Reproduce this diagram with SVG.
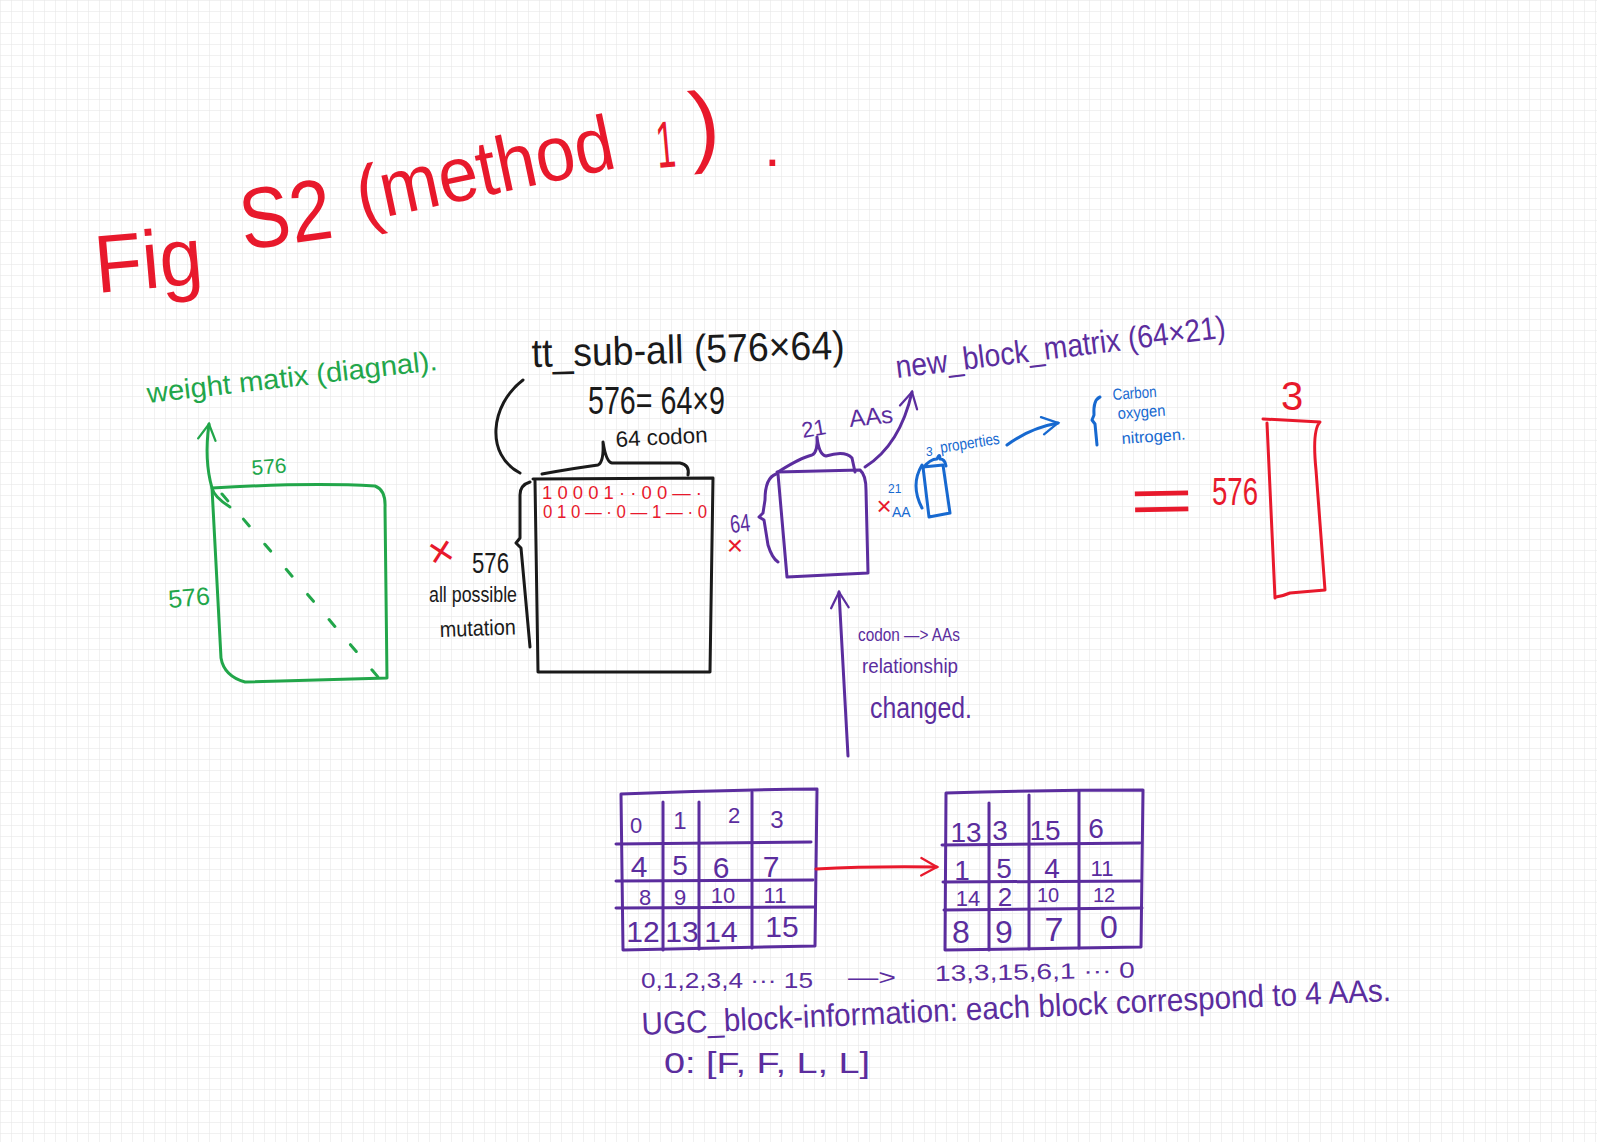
<svg xmlns="http://www.w3.org/2000/svg" width="1597" height="1142" viewBox="0 0 1597 1142">
<defs>
<pattern id="grid" width="11" height="11" patternUnits="userSpaceOnUse">
<path d="M11,0 L0,0 L0,11" fill="none" stroke="#e3e3e3" stroke-width="1"/>
</pattern>
<marker id="ahP" viewBox="0 0 12 12" refX="10" refY="6" markerWidth="7" markerHeight="7" orient="auto" markerUnits="strokeWidth"><path d="M1,1 L10,6 L1,11" fill="none" stroke="#5b2d9e" stroke-width="1.3" stroke-linecap="round"/></marker>
<marker id="ahR" viewBox="0 0 12 12" refX="10" refY="6" markerWidth="7" markerHeight="7" orient="auto" markerUnits="strokeWidth"><path d="M1,1 L10,6 L1,11" fill="none" stroke="#e8192c" stroke-width="1.3" stroke-linecap="round"/></marker>
<marker id="ahB" viewBox="0 0 12 12" refX="10" refY="6" markerWidth="7" markerHeight="7" orient="auto" markerUnits="strokeWidth"><path d="M1,1 L10,6 L1,11" fill="none" stroke="#1769d0" stroke-width="1.3" stroke-linecap="round"/></marker>
<marker id="ahG" viewBox="0 0 12 12" refX="10" refY="6" markerWidth="7" markerHeight="7" orient="auto" markerUnits="strokeWidth"><path d="M1,1 L10,6 L1,11" fill="none" stroke="#22a64a" stroke-width="1.3" stroke-linecap="round"/></marker>
</defs>
<style>
text { font-family: "Liberation Sans", Arial, sans-serif; }
.r { fill:#e8192c; } .g { fill:#22a64a; } .p { fill:#5b2d9e; } .b { fill:#1769d0; } .k { fill:#1a1a1a; }
.ln { fill:none; stroke-linecap:round; stroke-linejoin:round; stroke-width:3; }
.sr { stroke:#e8192c; } .sg { stroke:#22a64a; } .sp { stroke:#5b2d9e; } .sb { stroke:#1769d0; } .sk { stroke:#1a1a1a; }
.num { text-anchor:middle; }
</style>
<rect width="1597" height="1142" fill="#ffffff"/>
<rect width="1597" height="1142" fill="url(#grid)"/>

<g id="title">
<text class="r" x="97" y="293" font-size="82" textLength="108" lengthAdjust="spacingAndGlyphs" transform="rotate(-5 97 293)">Fig</text>
<text class="r" x="244" y="250" font-size="86" textLength="92" lengthAdjust="spacingAndGlyphs" transform="rotate(-8 244 250)">S2</text>
<text class="r" x="362" y="222" font-size="78" textLength="262" lengthAdjust="spacingAndGlyphs" transform="rotate(-12 362 222)">(method</text>
<text class="r" x="658" y="168" font-size="66" textLength="19" lengthAdjust="spacingAndGlyphs" transform="rotate(-5 658 168)">1</text>
<text class="r" x="692" y="156" font-size="90" transform="rotate(-5 692 156)">)</text>
<text class="r" x="764" y="166" font-size="60">.</text>
</g>

<g id="weight-matrix">
<text class="g" x="148" y="403" font-size="28" textLength="292" lengthAdjust="spacingAndGlyphs" transform="rotate(-6.5 148 403)">weight matix (diagnal).</text>
<text class="g" x="252" y="475" font-size="21" transform="rotate(-4 252 475)">576</text>
<text class="g" x="169" y="608" font-size="25" transform="rotate(-5 169 608)">576</text>
<path class="ln sg" d="M212,488 C280,484 340,484 375,486 Q386,490 385,508 L387,678 L245,682 Q224,676 221,658 L212,488"/>
<path class="ln sg" stroke-width="1.6" stroke-dasharray="9 24" d="M222,494 L378,677"/>
</g>

<g id="tt-sub-all">
<text class="k" x="532" y="367" font-size="40" textLength="313" lengthAdjust="spacingAndGlyphs" transform="rotate(-1.5 532 367)">tt_sub-all (576×64)</text>
<text class="k" x="588" y="414" font-size="38" textLength="137" lengthAdjust="spacingAndGlyphs">576= 64×9</text>
<text class="k" x="616" y="447" font-size="22" textLength="92" lengthAdjust="spacingAndGlyphs" transform="rotate(-3 616 447)">64 codon</text>
<path class="ln sk" d="M523,380 C490,405 485,455 520,473"/>
<path class="ln sk" d="M542,474 Q575,468 598,465 Q604,462 603,442 Q606,462 612,463 L680,463 Q690,465 688,475"/>
<path class="ln sk" d="M530,482 Q520,485 520,495 L520,538 L516,543 L521,548 L530,647"/>
<path class="ln sk" d="M533,479 L713,478 L710,672 L538,672 L535,481"/>
<text class="r" x="542" y="499" font-size="19" textLength="160" lengthAdjust="spacingAndGlyphs">1 0 0 0 1 · · 0 0 — ·</text>
<text class="r" x="543" y="518" font-size="19" textLength="164" lengthAdjust="spacingAndGlyphs">0 1 0 — · 0 — 1 — · 0</text>
<text class="r" x="444" y="566" font-size="44" text-anchor="middle" transform="rotate(-12 444 566)">×</text>
<text class="k" x="472" y="573" font-size="30" textLength="37" lengthAdjust="spacingAndGlyphs">576</text>
<text class="k" x="429" y="602" font-size="22" textLength="88" lengthAdjust="spacingAndGlyphs">all possible</text>
<text class="k" x="440" y="637" font-size="22" textLength="76" lengthAdjust="spacingAndGlyphs" transform="rotate(-2 440 637)">mutation</text>
</g>

<g id="new-block-matrix">
<text class="p" x="897" y="378" font-size="32" textLength="332" lengthAdjust="spacingAndGlyphs" transform="rotate(-7 897 378)">new_block_matrix (64×21)</text>
<path class="ln sp" d="M777,472 L860,470 Q866,475 866,490 L868,573 L787,577 L778,474"/>
<path class="ln sp" d="M778,472 Q800,458 812,455 Q818,452 817,437 Q819,455 826,456 Q845,450 852,458 L855,472"/>
<text class="p" x="803" y="438" font-size="22" transform="rotate(-10 803 438)">21</text>
<text class="p" x="850" y="427" font-size="24" transform="rotate(-6 850 427)">AAs</text>
<path class="ln sp" d="M776,474 Q765,478 765,500 L763,513 L759,517 L764,520 L768,545 Q772,558 778,562"/>
<text class="p" x="731" y="533" font-size="25" textLength="20" lengthAdjust="spacingAndGlyphs" transform="rotate(-6 731 533)">64</text>
<text class="r" x="735" y="555" font-size="28" text-anchor="middle">×</text>
</g>

<g id="properties">
<text class="r" x="884" y="515" font-size="26" text-anchor="middle">×</text>
<text class="b" x="888" y="493" font-size="12">21</text>
<text class="b" x="892" y="517" font-size="14">AA</text>
<path class="ln sb" stroke-width="2" d="M922,465 Q910,485 922,508"/>
<path class="ln sb" stroke-width="2" d="M923,467 L943,465 L950,513 L929,517 Z"/>
<path class="ln sb" stroke-width="2" d="M923,468 Q930,459 937,459 Q940,452 940,459 Q945,459 946,466"/>
<text class="b" x="926" y="456" font-size="12">3</text>
<text class="b" x="941" y="453" font-size="16" textLength="60" lengthAdjust="spacingAndGlyphs" transform="rotate(-9 941 453)">properties</text>
<path class="ln sb" stroke-width="2" d="M1100,397 Q1093,400 1094,415 L1092,420 L1095,424 L1097,445"/>
<text class="b" x="1113" y="400" font-size="16" textLength="44" lengthAdjust="spacingAndGlyphs" transform="rotate(-4 1113 400)">Carbon</text>
<text class="b" x="1118" y="419" font-size="16" textLength="48" lengthAdjust="spacingAndGlyphs" transform="rotate(-4 1118 419)">oxygen</text>
<text class="b" x="1122" y="444" font-size="16" textLength="64" lengthAdjust="spacingAndGlyphs" transform="rotate(-4 1122 444)">nitrogen.</text>
</g>

<g id="result-matrix">
<text class="r" x="1130" y="523" font-size="64" textLength="64" lengthAdjust="spacingAndGlyphs" transform="rotate(-1 1130 523)">=</text>
<text class="r" x="1212" y="505" font-size="38" textLength="46" lengthAdjust="spacingAndGlyphs">576</text>
<text class="r" x="1281" y="410" font-size="40">3</text>
<path class="ln sr" d="M1263,419 L1320,422 Q1312,430 1316,470 L1325,590 L1290,593 Q1283,596 1276,597 L1275,598 L1267,423"/>
</g>

<g id="relationship-note">
<text class="p" x="858" y="641" font-size="18" textLength="102" lengthAdjust="spacingAndGlyphs">codon —&gt; AAs</text>
<text class="p" x="862" y="673" font-size="20" textLength="96" lengthAdjust="spacingAndGlyphs">relationship</text>
<text class="p" x="870" y="718" font-size="30" textLength="102" lengthAdjust="spacingAndGlyphs">changed.</text>
</g>

<g id="grid-before">
<path class="ln sp" d="M621,794 Q720,790 817,789 L815,946 L623,950 Z"/>
<path class="ln sp" d="M616,844 L811,842 M616,881 L813,880 M616,908 L815,907"/>
<path class="ln sp" d="M663,802 L663,950 M699,802 L699,949 M752,792 L752,948"/>
<text class="p num" x="636" y="833" font-size="22">0</text>
<text class="p num" x="680" y="829" font-size="24">1</text>
<text class="p num" x="734" y="823" font-size="22">2</text>
<text class="p num" x="777" y="828" font-size="24">3</text>
<text class="p num" x="639" y="877" font-size="30">4</text>
<text class="p num" x="680" y="875" font-size="28">5</text>
<text class="p num" x="721" y="878" font-size="30">6</text>
<text class="p num" x="771" y="877" font-size="30">7</text>
<text class="p num" x="645" y="905" font-size="22">8</text>
<text class="p num" x="680" y="905" font-size="22">9</text>
<text class="p num" x="723" y="903" font-size="22">10</text>
<text class="p num" x="775" y="903" font-size="22">11</text>
<text class="p num" x="643" y="942" font-size="30">12</text>
<text class="p num" x="682" y="942" font-size="30">13</text>
<text class="p num" x="721" y="942" font-size="30">14</text>
<text class="p num" x="782" y="937" font-size="30">15</text>
</g>

<g id="grid-after">
<path class="ln sp" d="M946,793 Q1045,790 1143,790 L1141,947 L945,950 Z"/>
<path class="ln sp" d="M942,845 L1140,843 M943,882 L1141,881 M944,910 L1142,908"/>
<path class="ln sp" d="M989,803 L989,950 M1029,795 L1029,949 M1079,791 L1079,948"/>
<text class="p num" x="966" y="842" font-size="28">13</text>
<text class="p num" x="1000" y="840" font-size="28">3</text>
<text class="p num" x="1045" y="840" font-size="28">15</text>
<text class="p num" x="1096" y="838" font-size="28">6</text>
<text class="p num" x="962" y="880" font-size="28">1</text>
<text class="p num" x="1004" y="878" font-size="28">5</text>
<text class="p num" x="1052" y="878" font-size="28">4</text>
<text class="p num" x="1102" y="876" font-size="22">11</text>
<text class="p num" x="968" y="906" font-size="22">14</text>
<text class="p num" x="1005" y="906" font-size="26">2</text>
<text class="p num" x="1048" y="902" font-size="20">10</text>
<text class="p num" x="1104" y="902" font-size="20">12</text>
<text class="p num" x="961" y="943" font-size="32">8</text>
<text class="p num" x="1004" y="943" font-size="32">9</text>
<text class="p num" x="1054" y="941" font-size="34">7</text>
<text class="p num" x="1109" y="938" font-size="32">0</text>
</g>

<g id="block-notes">
<text class="p" x="641" y="988" font-size="22" textLength="172" lengthAdjust="spacingAndGlyphs">0,1,2,3,4 ··· 15</text>
<text class="p" x="848" y="985" font-size="22" textLength="48" lengthAdjust="spacingAndGlyphs">—&gt;</text>
<text class="p" x="935" y="981" font-size="22" textLength="200" lengthAdjust="spacingAndGlyphs" transform="rotate(-1 935 981)">13,3,15,6,1 ··· 0</text>
<text class="p" x="642" y="1035" font-size="32" textLength="750" lengthAdjust="spacingAndGlyphs" transform="rotate(-2.6 642 1035)">UGC_block-information: each block correspond to 4 AAs.</text>
<text class="p" x="664" y="1073" font-size="30" textLength="206" lengthAdjust="spacingAndGlyphs">0: [F, F, L, L]</text>
</g>

<g id="connectors">
<path class="ln sg" stroke-width="2" marker-end="url(#ahG)" d="M230,507 Q214,497 212,488 Q204,460 209,424"/>
<path class="ln sp" stroke-width="2.5" marker-end="url(#ahP)" d="M865,467 Q900,445 912,392"/>
<path class="ln sb" stroke-width="2" marker-end="url(#ahB)" d="M1007,445 Q1030,428 1058,423"/>
<path class="ln sp" marker-end="url(#ahP)" d="M848,756 L839,592"/>
<path class="ln sr" stroke-width="2.5" marker-end="url(#ahR)" d="M816,869 Q870,866 937,867"/>
</g>
</svg>
